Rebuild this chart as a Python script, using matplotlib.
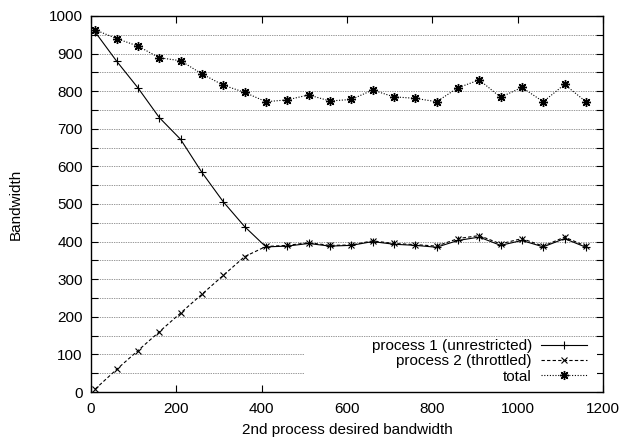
import numpy as np
import matplotlib.pyplot as plt
from matplotlib.patches import Rectangle

plt.rcParams['font.family'] = ['Liberation Sans', 'DejaVu Sans']

# desired bandwidth of the 2nd process
desired = [10, 60, 110, 160, 210, 260, 310, 360, 410, 460, 510, 560,
           610, 660, 710, 760, 810, 860, 910, 960, 1010, 1060, 1110, 1160]

proc1 = [957, 880, 809, 730, 672, 584, 506, 440, 386, 388, 395, 388,
         390, 400, 393, 390, 385, 403, 412, 390, 403, 386, 408, 385]
proc2 = [8, 60, 110, 160, 210, 260, 310, 360, 387, 390, 397, 390,
         391, 402, 395, 392, 388, 408, 416, 394, 408, 388, 412, 388]
total = [963, 940, 920, 889, 881, 846, 816, 797, 772, 777, 790, 774,
         778, 803, 785, 781, 772, 809, 830, 784, 810, 772, 818, 772]

fs = 11

fig = plt.figure(figsize=(6.24, 4.38), dpi=100)
ax = fig.add_axes([0.1458, 0.105, 0.8205, 0.8585])

ax.plot(desired, proc1, color='black', lw=0.8, ls='-', marker='+', ms=6,
        mew=0.8, label='process 1 (unrestricted)')
ax.plot(desired, proc2, color='black', lw=0.8, ls=(0, (3, 2)), marker='x', ms=5,
        mew=0.8, label='process 2 (throttled)')
ax.plot(desired, total, color='black', lw=0.8, ls=(0, (1, 1.5)), marker=(8, 2, 0),
        ms=6.5, mew=1.0, label='total')

ax.set_xlim(0, 1200)
ax.set_ylim(0, 1000)
ax.set_xticks(np.arange(0, 1201, 200))
ax.set_yticks(np.arange(0, 1001, 100))
ax.set_yticks(np.arange(50, 1000, 100), minor=True)
ax.tick_params(which='both', direction='in', top=True, right=True,
               length=5, width=0.8, labelsize=fs)
ax.tick_params(which='minor', length=5)
ax.tick_params(axis='x', pad=7)
ax.tick_params(axis='y', pad=6)

ax.grid(axis='y', which='both', color='#333333', ls=(0, (1, 1.5)), lw=0.5)
ax.set_axisbelow(True)

# blank area behind the key, like gnuplot
ax.add_patch(Rectangle((0.418, 0.0), 0.57, 0.125, transform=ax.transAxes,
                       facecolor='white', edgecolor='none', zorder=1.5))

for s in ax.spines.values():
    s.set_linewidth(1.0)

ax.set_xlabel('2nd process desired bandwidth', fontsize=fs, labelpad=5)
ax.set_ylabel('Bandwidth', fontsize=fs, labelpad=19)

leg = ax.legend(loc='lower right', frameon=False, fontsize=fs, markerfirst=False,
                handlelength=3.0, handletextpad=0.6, labelspacing=0.08,
                borderaxespad=0.15, bbox_to_anchor=(0.985, 0.0))
for t in leg.get_texts():
    t.set_ha('right')

fig.savefig('out.png', dpi=100)
